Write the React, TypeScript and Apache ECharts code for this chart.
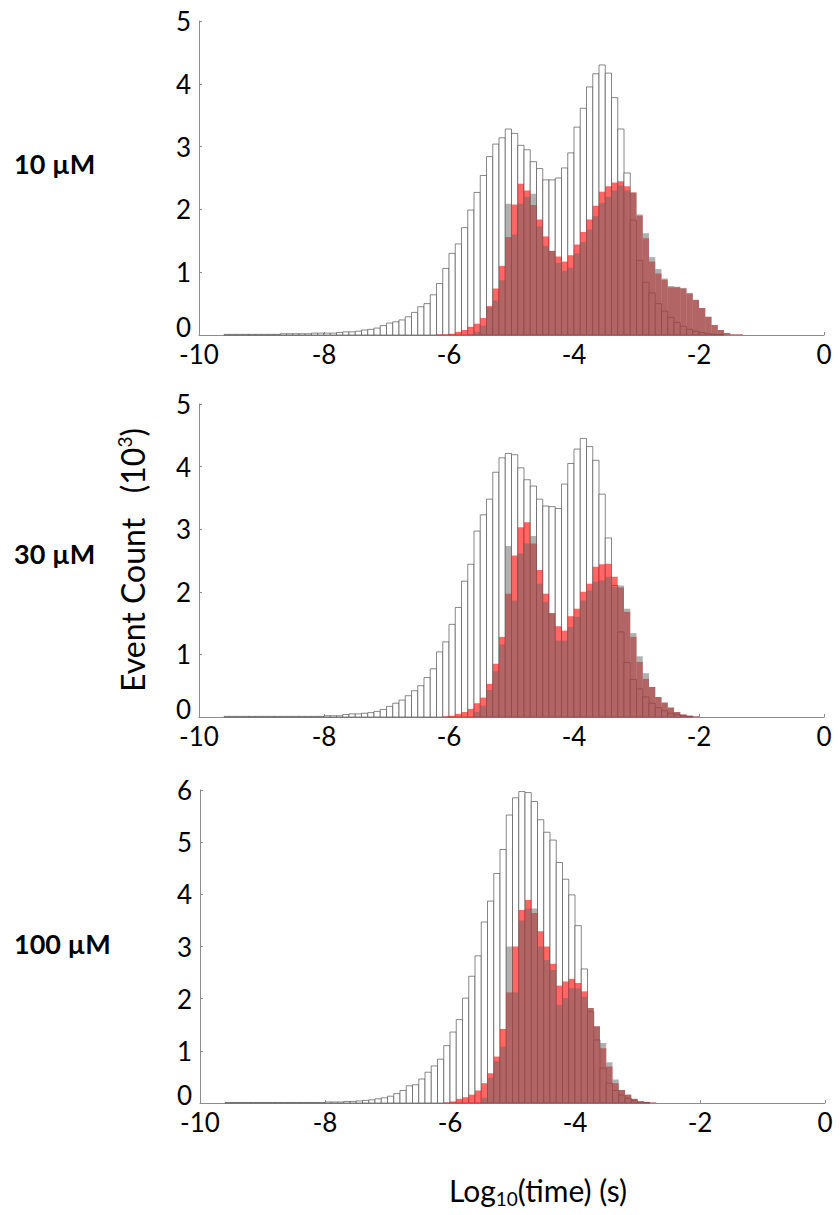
import React, { useEffect, useRef } from "react";
import * as echarts from "echarts";

// Histogram bins of width 0.1 in log10(time); each series lists values
// (in 10^3 events) starting from the left edge given by its *_START constant.
const BIN = 0.1;
const X_TICKS = [-10, -8, -6, -4, -2, 0];
const PANEL_LABELS = ["10 µM", "30 µM", "100 µM"];
const Y_MAX = [5, 5, 6];

// ---- 10 µM ----
const P1_TOTAL_START = -9.6;
const P1_TOTAL = [
  0.01, 0.01, 0.01, 0.01, 0.01, 0.01, 0.01, 0.01, 0.01, 0.02, 0.02, 0.02, 0.02, 0.02,
  0.03, 0.03, 0.03, 0.03, 0.04, 0.05, 0.05, 0.06, 0.08, 0.09, 0.11, 0.15, 0.19, 0.21,
  0.24, 0.29, 0.36, 0.45, 0.5, 0.64, 0.82, 1.06, 1.3, 1.45, 1.71, 1.99, 2.27, 2.54,
  2.84, 3.04, 3.14, 3.28, 3.21, 3.02, 2.95, 2.76, 2.65, 2.47, 2.47, 2.5, 2.66, 2.9,
  3.31, 3.61, 3.95, 4.16, 4.3, 4.17, 3.78, 3.28, 2.58, 1.83, 1.19, 0.84, 0.67, 0.5,
  0.38, 0.28, 0.2, 0.14, 0.09, 0.06, 0.04, 0.02, 0.01, 0.01,
];
const P1_RED_START = -6.2;
const P1_RED = [
  0.01, 0.01, 0.02, 0.05, 0.08, 0.13, 0.18, 0.27, 0.46, 0.74, 1.1, 1.56, 2.08, 2.41,
  2.3, 2.07, 1.84, 1.57, 1.34, 1.25, 1.17, 1.27, 1.44, 1.64, 1.84, 2.06, 2.28, 2.37,
  2.43, 2.45, 2.37, 2.27, 1.9, 1.54, 1.17, 0.98, 0.88, 0.76, 0.76, 0.74, 0.66, 0.56,
  0.43, 0.29, 0.16, 0.08, 0.03, 0.01, 0.01,
];
const P1_GRAY_START = -5.7;
const P1_GRAY = [
  0.01, 0.05, 0.15, 0.44, 0.55, 0.87, 2.09, 1.6, 2.09, 2.2, 2.25, 1.73, 1.42, 1.34,
  1.15, 1.02, 1.07, 1.3, 1.48, 1.68, 1.89, 2.1, 2.2, 2.3, 2.38, 2.3, 2.27, 1.92, 1.62,
  1.24, 1.05, 0.9, 0.78, 0.77, 0.75, 0.67, 0.56, 0.43, 0.29, 0.16, 0.08, 0.03, 0.01,
  0.01,
];

// ---- 30 µM ----
const P2_TOTAL_START = -9.6;
const P2_TOTAL = [
  0.01, 0.01, 0.01, 0.01, 0.01, 0.01, 0.01, 0.01, 0.01, 0.01, 0.01, 0.01, 0.01, 0.01,
  0.01, 0.01, 0.02, 0.02, 0.02, 0.04, 0.05, 0.05, 0.06, 0.07, 0.09, 0.12, 0.17, 0.22,
  0.27, 0.34, 0.42, 0.5, 0.63, 0.77, 1.04, 1.2, 1.48, 1.75, 2.17, 2.44, 2.97, 3.23,
  3.48, 3.91, 4.14, 4.21, 4.19, 3.98, 3.79, 3.69, 3.48, 3.37, 3.36, 3.33, 3.72, 4.05,
  4.28, 4.45, 4.32, 4.1, 3.56, 2.86, 2.1, 1.36, 0.87, 0.6, 0.45, 0.32, 0.22, 0.15, 0.1,
  0.06, 0.04, 0.02, 0.01,
];
const P2_RED_START = -6.1;
const P2_RED = [
  0.01, 0.02, 0.05, 0.08, 0.13, 0.22, 0.31, 0.53, 0.85, 1.28, 1.97, 2.58, 3.03, 3.11,
  2.77, 2.35, 1.97, 1.66, 1.45, 1.38, 1.61, 1.73, 2.0, 2.13, 2.4, 2.44, 2.45, 2.24,
  2.07, 1.68, 1.28, 0.88, 0.61, 0.48, 0.32, 0.23, 0.15, 0.08, 0.04, 0.02, 0.01,
];
const P2_GRAY_START = -5.6;
const P2_GRAY = [
  0.08, 0.18, 0.43, 0.73, 1.16, 2.73, 1.86, 2.61, 2.77, 2.89, 2.13, 1.84, 1.66, 1.22,
  1.22, 1.44, 1.6, 1.86, 2.02, 2.16, 2.18, 2.24, 2.08, 2.1, 1.73, 1.34, 0.97, 0.7,
  0.48, 0.32, 0.23, 0.15, 0.08, 0.04, 0.02, 0.01,
];

// ---- 100 µM ----
const P3_TOTAL_START = -9.6;
const P3_TOTAL = [
  0.01, 0.01, 0.01, 0.01, 0.01, 0.01, 0.01, 0.01, 0.01, 0.01, 0.01, 0.01, 0.01, 0.01,
  0.01, 0.01, 0.02, 0.02, 0.02, 0.03, 0.03, 0.04, 0.05, 0.06, 0.08, 0.1, 0.13, 0.18,
  0.24, 0.33, 0.35, 0.46, 0.59, 0.71, 0.84, 1.1, 1.36, 1.6, 2.01, 2.43, 2.82, 3.47,
  3.87, 4.4, 4.86, 5.52, 5.85, 5.97, 5.95, 5.78, 5.43, 5.19, 5.04, 4.61, 4.29, 3.99,
  3.4, 2.57, 1.75, 1.21, 0.67, 0.38, 0.24, 0.15, 0.09, 0.05, 0.02, 0.01,
];
const P3_RED_START = -6.1;
const P3_RED = [
  0.01, 0.03, 0.08, 0.11, 0.16, 0.24, 0.38, 0.57, 0.89, 1.42, 2.12, 3.0, 3.7, 3.89,
  3.64, 3.29, 3.0, 2.67, 2.25, 2.33, 2.38, 2.3, 2.14, 1.82, 1.47, 1.05, 0.7, 0.38,
  0.25, 0.16, 0.08, 0.03, 0.02, 0.01,
];
const P3_GRAY_START = -5.5;
const P3_GRAY = [
  0.1, 0.48, 0.8, 1.08, 3.0, 2.12, 3.5, 3.73, 3.73, 3.0, 2.74, 2.55, 1.88, 2.01, 2.2,
  2.2, 2.04, 1.82, 1.47, 1.15, 0.78, 0.45, 0.25, 0.16, 0.08, 0.03, 0.02, 0.01,
];

const PANELS = [
  { total: [P1_TOTAL_START, P1_TOTAL], red: [P1_RED_START, P1_RED], gray: [P1_GRAY_START, P1_GRAY] },
  { total: [P2_TOTAL_START, P2_TOTAL], red: [P2_RED_START, P2_RED], gray: [P2_GRAY_START, P2_GRAY] },
  { total: [P3_TOTAL_START, P3_TOTAL], red: [P3_RED_START, P3_RED], gray: [P3_GRAY_START, P3_GRAY] },
] as const;

// layout (pixels)
const GRIDS = [
  { left: 199, top: 21, width: 625, height: 314 },
  { left: 199, top: 404, width: 625, height: 313 },
  { left: 200, top: 790, width: 625, height: 313 },
];
const LABEL_Y = [163, 553, 943];
const FONT = "Lato, 'Open Sans', sans-serif";

function toData(start: number, values: readonly number[]) {
  return values.map((v, i) => [Math.round((start + i * BIN) * 10) / 10, v]);
}

function barSeries(gridIndex: number, data: number[][], style: any, name: string) {
  return {
    type: "custom",
    name,
    xAxisIndex: gridIndex,
    yAxisIndex: gridIndex,
    data,
    silent: true,
    renderItem: (params: any, api: any) => {
      const x0 = api.value(0);
      const h = api.value(1);
      const p0 = api.coord([x0, 0]);
      const p1 = api.coord([x0 + BIN, h]);
      return {
        type: "rect",
        shape: { x: p0[0], y: p1[1], width: p1[0] - p0[0], height: p0[1] - p1[1] },
        style,
      };
    },
  };
}

export default function App() {
  const ref = useRef<HTMLDivElement>(null);
  useEffect(() => {
    if (!ref.current) return;
    const chart = echarts.init(ref.current, null, { renderer: "svg" });
    const series: any[] = [];
    PANELS.forEach((p, g) => {
      series.push(
        barSeries(g, toData(p.total[0], p.total[1]), { fill: "#ffffff", stroke: "#555555", lineWidth: 0.7 }, "total")
      );
      series.push(barSeries(g, toData(p.red[0], p.red[1]), { fill: "rgba(255,0,0,0.6)" }, "red"));
      series.push(barSeries(g, toData(p.gray[0], p.gray[1]), { fill: "rgba(100,100,100,0.5)" }, "gray"));
    });
    const axisLineStyle = { color: "#8c8c8c", width: 1 };
    chart.setOption({
      animation: false,
      backgroundColor: "#ffffff",
      grid: GRIDS.map((g) => ({ ...g, containLabel: false })),
      xAxis: GRIDS.map((_, i) => ({
        type: "value",
        gridIndex: i,
        min: X_TICKS[0],
        max: X_TICKS[X_TICKS.length - 1],
        interval: 2,
        axisLine: { show: true, onZero: false, lineStyle: axisLineStyle },
        axisTick: { show: true, inside: true, length: 3, lineStyle: axisLineStyle },
        axisLabel: { fontSize: 26, color: "#000", fontFamily: FONT, margin: 6 },
        splitLine: { show: false },
      })),
      yAxis: GRIDS.map((_, i) => ({
        type: "value",
        gridIndex: i,
        min: 0,
        max: Y_MAX[i],
        interval: 1,
        axisLine: { show: true, onZero: false, lineStyle: axisLineStyle },
        axisTick: { show: true, inside: true, length: 3, lineStyle: axisLineStyle },
        axisLabel: {
          fontSize: 26,
          color: "#000",
          fontFamily: FONT,
          margin: 8,
          formatter: (v: number) => (v === 0 ? "{z|0}" : String(v)),
          rich: {
            z: { fontSize: 26, color: "#000", fontFamily: FONT, padding: [0, 0, 16, 0] },
          },
        },
        splitLine: { show: false },
      })),
      series,
      graphic: [
        ...PANEL_LABELS.map((t, i) => ({
          type: "text",
          x: 14,
          y: LABEL_Y[i],
          style: {
            text: t,
            fontSize: 27,
            fontWeight: "bold",
            fontFamily: FONT,
            fill: "#000",
            align: "left",
            verticalAlign: "middle",
          },
        })),
        {
          type: "text",
          x: 132,
          y: 560,
          rotation: Math.PI / 2,
          style: {
            text: "Event Count   (10{sup|3})",
            fontSize: 32,
            fontFamily: FONT,
            fill: "#000",
            align: "center",
            verticalAlign: "middle",
            rich: {
              sup: { fontSize: 19, fontFamily: FONT, fill: "#000", verticalAlign: "top", lineHeight: 34 },
            },
          },
        },
        {
          type: "text",
          x: 538,
          y: 1190,
          style: {
            text: "Log{sub|10}(time) (s)",
            fontSize: 30,
            fontFamily: FONT,
            fill: "#000",
            align: "center",
            verticalAlign: "middle",
            rich: {
              sub: { fontSize: 19, fontFamily: FONT, fill: "#000", verticalAlign: "bottom", lineHeight: 36 },
            },
          },
        },
      ],
    });
    return () => chart.dispose();
  }, []);
  return (
    <div
      ref={ref}
      style={{ position: "absolute", left: 0, top: 0, width: 840, height: 1215 }}
    />
  );
}
